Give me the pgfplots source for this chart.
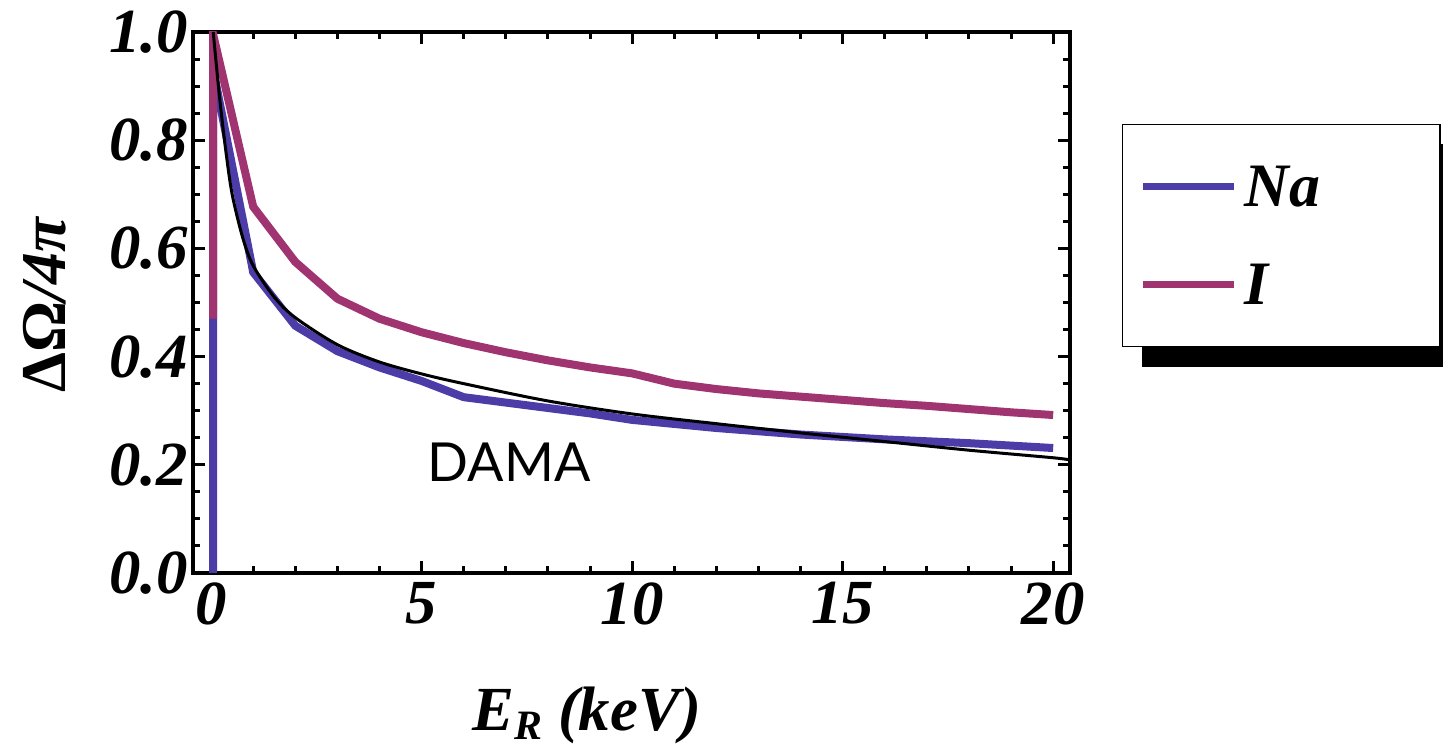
\documentclass[border=0pt]{standalone}
\usepackage{pgfplots}
\pgfplotsset{compat=1.18}
\usepackage{fontspec}
\setmainfont{Liberation Serif}
\newfontfamily\damafont{Lato}
\usetikzlibrary{backgrounds}
\definecolor{nablue}{RGB}{76,60,168}
\definecolor{ipurple}{RGB}{160,52,112}
\begin{document}
\begin{tikzpicture}
\begin{axis}[
  at={(0,0)}, anchor=south west,
  scale only axis, width=877bp, height=541bp,
  xmin=-0.43, xmax=20.4, ymin=0, ymax=1,
  xtick={0,5,10,15,20}, minor x tick num=4,
  ytick={0,0.2,0.4,0.6,0.8,1.0}, yticklabels={0.0,0.2,0.4,0.6,0.8,1.0}, minor y tick num=3,
  tick align=inside, major tick length=12bp, minor tick length=7bp,
  tick style={black, line width=3bp},
  axis line style={line width=4bp},
  /pgf/number format/assume math mode=true,
  tick label style={font=\fontsize{63}{63}\selectfont\bfseries\itshape},
  xticklabel style={yshift=-6bp},
  yticklabel style={xshift=-2bp},
  xlabel={E\raisebox{-9bp}{\fontsize{42}{42}\selectfont R} (keV)},
  xlabel style={font=\fontsize{63}{63}\selectfont\bfseries\itshape, at={(axis description cs:0.449,-0.292)}, anchor=base},
  ylabel={{\upshape ΔΩ}/4π},
  ylabel style={font=\fontsize{64}{64}\selectfont\bfseries\itshape, at={(axis description cs:-0.169,0.495)}, anchor=center},
  legend style={name=leg, at={(1.059,0.830)}, anchor=north west, draw=black, line width=1.5bp, fill=white,
    font=\fontsize{62}{62}\selectfont\bfseries\itshape,
    nodes={inner sep=3bp},
    inner xsep=17bp, inner ysep=38bp, row sep=50bp, column sep=4bp},
  legend cell align=left,
  legend image code/.code={\draw[#1, line width=7bp] (0bp,0bp) -- (91bp,0bp);},
]
\addplot[nablue, line width=8bp] coordinates {
 (0.05,0) (0.05,0.93) (1,0.556) (2,0.457) (3,0.41) (4,0.38) (5,0.355) (6,0.325)
 (7,0.315) (8,0.305) (9,0.295) (10,0.283) (12,0.268) (14,0.256) (16,0.247) (18,0.24) (20,0.231)};
\addlegendentry{Na\hspace*{100bp}}
\addplot[ipurple, line width=8bp] coordinates {
 (0.05,0.47) (0.05,0.995) (1,0.677) (2,0.575) (3,0.507) (4,0.47) (5,0.445) (6,0.425)
 (7,0.408) (8,0.393) (9,0.38) (10,0.369) (11,0.35) (12,0.34) (13,0.332) (14,0.326)
 (15,0.32) (16,0.314) (17,0.309) (18,0.303) (19,0.297) (20,0.292)};
\addlegendentry{I}
\addplot[black, line width=3bp, smooth, forget plot] coordinates {
 (0.05,1.0) (0.2,0.88) (0.35,0.78) (0.5,0.70) (0.75,0.62) (1,0.568) (1.5,0.51) (2,0.472)
 (3,0.422) (4,0.39) (5,0.368) (6,0.35) (8,0.318) (10,0.294) (12,0.276) (14,0.259)
 (16,0.243) (18,0.227) (20,0.213) (20.4,0.209)};
\node[font=\damafont\fontsize{54}{54}\selectfont] at (axis cs:7.08,0.205) {DAMA};
\end{axis}
\begin{scope}[on background layer]
\fill[black] ([xshift=20bp,yshift=-20bp]leg.south west) rectangle ([xshift=20bp,yshift=-20bp]leg.north east);
\end{scope}
\pgfresetboundingbox
\path[use as bounding box] (-193bp,-178bp) rectangle (1250bp,573bp);
\end{tikzpicture}
\end{document}
